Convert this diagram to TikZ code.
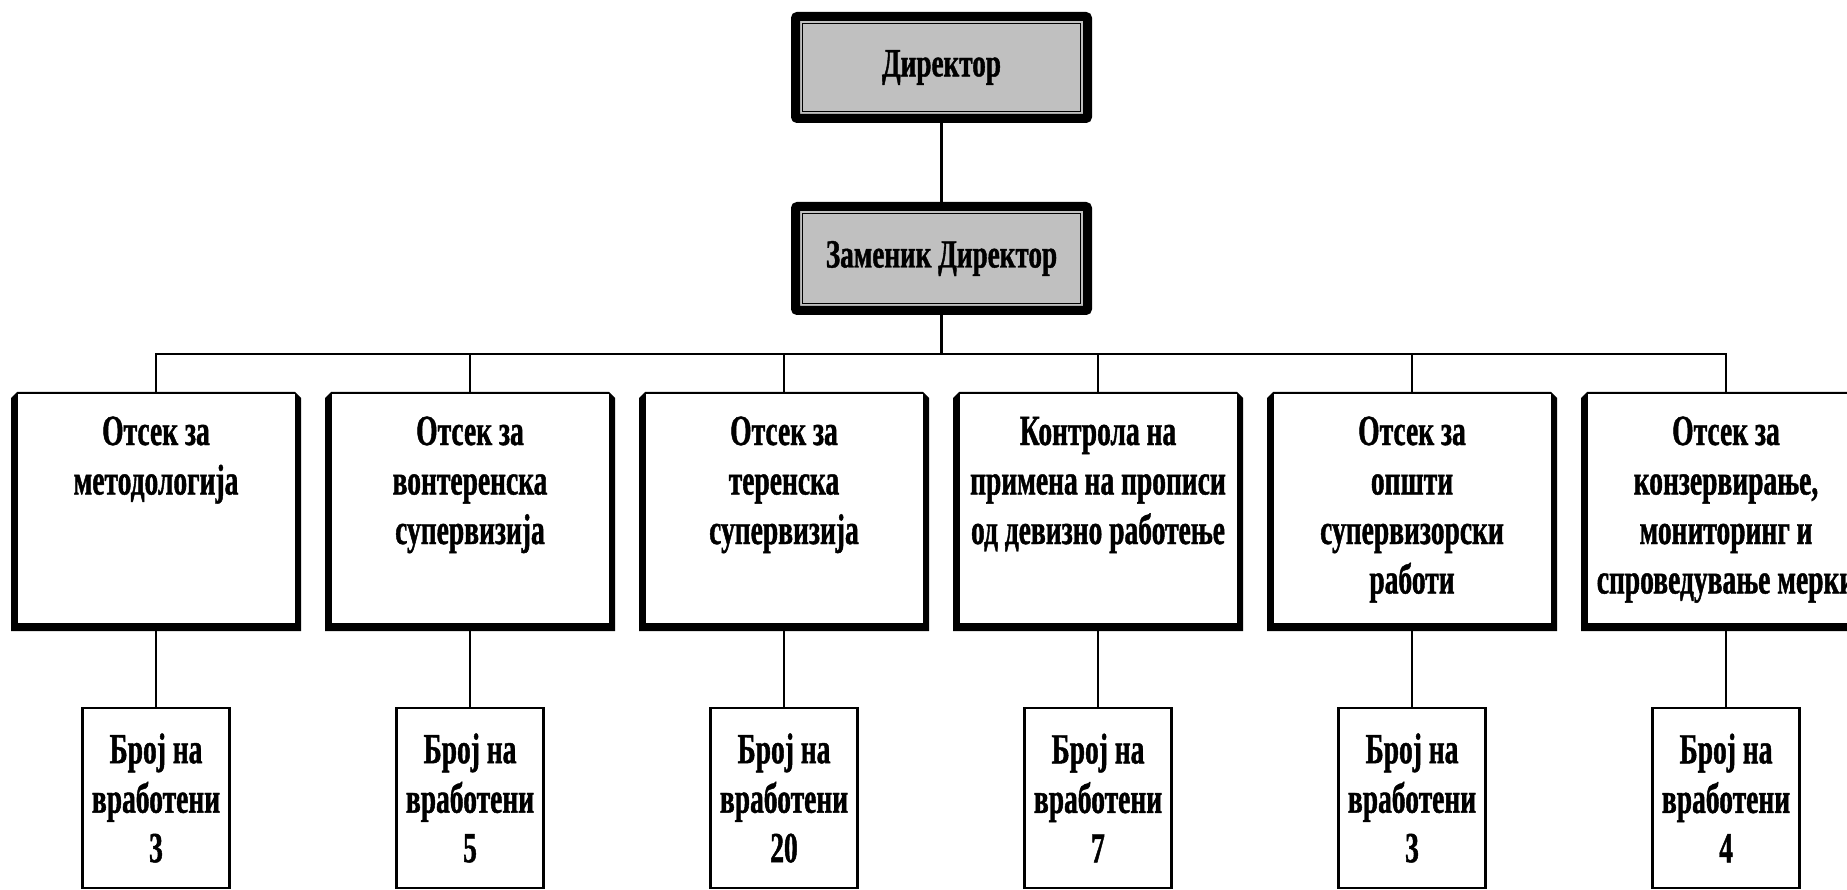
\documentclass[tikz,border=0pt]{standalone}
\usepackage{fontspec}
\newfontfamily\orgfont{Liberation Serif}[FakeStretch=0.64,BoldFeatures={FakeBold=1}]
\newfontfamily\bossfont{Liberation Serif}[FakeStretch=0.68,BoldFeatures={FakeBold=1}]
\pgfdeclarelayer{background}
\pgfsetlayers{background,main}
\definecolor{bossgray}{RGB}{192,192,192}
\tikzset{
  conn/.style={draw=black, line width=2.2pt},
  boss/.style={draw=black, fill=bossgray, line width=9pt, rounded corners=2pt, outer sep=0pt,
    minimum width=292pt, inner sep=0pt,
    font={\bossfont\bfseries\fontsize{40}{46}\selectfont}},
  dept/.style={inner sep=0pt, outer sep=0pt,
    font={\orgfont\bfseries\fontsize{43}{49.5}\selectfont}},
  staff/.style={draw=black, fill=white, line width=2.2pt, outer sep=0pt, inner sep=0pt,
    minimum width=147pt, minimum height=180pt, align=center,
    font={\orgfont\bfseries\fontsize{43}{49.5}\selectfont}},
}
\newcommand{\depttext}[1]{\parbox[c][239pt][t]{290pt}{\centering\rule{0pt}{53pt}#1\par}}
\newcommand{\deptframe}[1]{%
  \fill[black] ([yshift=-6pt]#1.north west) -- ([xshift=6pt]#1.north west)
    -- ([xshift=-6pt]#1.north east) -- ([yshift=-6pt]#1.north east)
    -- (#1.south east) -- (#1.south west) -- cycle;
  \fill[white] ([xshift=6.5pt,yshift=-2pt]#1.north west) rectangle ([xshift=-6.5pt,yshift=8pt]#1.south east);
}
\begin{document}
\begin{tikzpicture}[x=1pt,y=-1pt]
\useasboundingbox (0,0) rectangle (1847,890);
\clip (0,0) rectangle (1847,890);

% top boxes
\node[boss, minimum height=102pt] (dir) at (941.5,67.5) {Директор};
\draw[line width=1.8pt] ([xshift=7pt,yshift=-7pt]dir.north west) rectangle ([xshift=-7pt,yshift=7pt]dir.south east);
\node[boss, minimum height=104pt] (dep) at (941.5,258.5) {Заменик Директор};
\draw[line width=1.8pt] ([xshift=7pt,yshift=-7pt]dep.north west) rectangle ([xshift=-7pt,yshift=7pt]dep.south east);

% departments
\node[dept] (d1) at (156,511.5)  {\depttext{Отсек за\\методологија}};
\node[dept] (d2) at (470,511.5)  {\depttext{Отсек за\\вонтеренска\\супервизија}};
\node[dept] (d3) at (784,511.5)  {\depttext{Отсек за\\теренска\\супервизија}};
\node[dept] (d4) at (1098,511.5) {\depttext{Контрола на\\примена на прописи\\од девизно работење}};
\node[dept] (d5) at (1412,511.5) {\depttext{Отсек за\\општи\\супервизорски\\работи}};
\node[dept] (d6) at (1726,511.5) {\depttext{Отсек за\\конзервирање,\\мониторинг и\\спроведување мерки}};

% staff boxes
\node[staff] (s1) at (156,798)  {Број на\\вработени\\3};
\node[staff] (s2) at (470,798)  {Број на\\вработени\\5};
\node[staff] (s3) at (784,798)  {Број на\\вработени\\20};
\node[staff] (s4) at (1098,798) {Број на\\вработени\\7};
\node[staff] (s5) at (1412,798) {Број на\\вработени\\3};
\node[staff] (s6) at (1726,798) {Број на\\вработени\\4};

\begin{pgfonlayer}{background}
% connectors
\coordinate (bus) at (941.5,354);
\draw[conn] (dir.south) -- (dep.north);
\draw[conn] (dep.south) -- (bus);
\foreach \i in {1,...,6}{
  \draw[conn] (d\i.north) |- (bus);
  \draw[conn] (d\i.south) -- (s\i.north);
}
% department frames
\deptframe{d1}\deptframe{d2}\deptframe{d3}\deptframe{d4}\deptframe{d5}\deptframe{d6}
\end{pgfonlayer}
\end{tikzpicture}
\end{document}
